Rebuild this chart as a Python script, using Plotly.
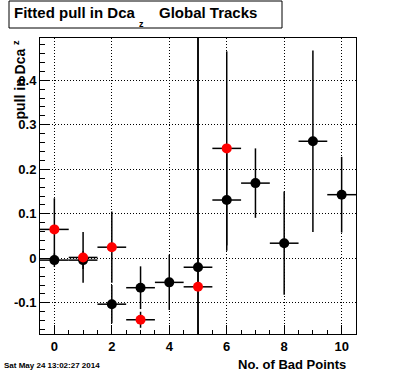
import plotly.graph_objects as go

# ---- data ----
x_black = [0, 1, 2, 3, 4, 5, 6, 7, 8, 9, 10]
y_black = [-0.004, -0.004, -0.103, -0.066, -0.054, -0.020, 0.131, 0.169, 0.034, 0.263, 0.143]
err_black = [0.015, 0.02, 0.043, 0.048, 0.062, 0.55, 0.114, 0.078, 0.116, 0.204, 0.085]

x_red = [0, 1, 2, 3, 5, 6]
y_red = [0.065, 0.002, 0.025, -0.138, -0.064, 0.247]
err_red = [0.07, 0.057, 0.08, 0.018, 0.6, 0.218]

x_bin_half = 0.5

x_tickvals = [0, 2, 4, 6, 8, 10]
x_ticktext = ["0", "2", "4", "6", "8", "10"]
y_tickvals = [-0.1, 0, 0.1, 0.2, 0.3, 0.4]
y_ticktext = ["-0.1", "0", "0.1", "0.2", "0.3", "0.4"]

title_main = "Fitted pull in Dca"
title_sub = "z"
title_rest = "Global Tracks"
ytitle_main = "pull in Dca"
ytitle_sub = "z"
xtitle_text = "No. of Bad Points"
date_text = "Sat May 24 13:02:27 2014"

FONT = "Liberation Sans, Arial, Helvetica, sans-serif"

W, H = 396, 372
L, R, T, B = 40, 40, 38, 38
PW, PH = W - L - R, H - T - B


def px(xp):
    return (xp - L) / PW


def py(yp):
    return (H - B - yp) / PH


def ann(text, x, y, xa, ya, size, angle=0):
    return dict(text=text, xref="paper", yref="paper", x=px(x), y=py(y),
                xanchor=xa, yanchor=ya, showarrow=False, textangle=angle,
                borderpad=0,
                font=dict(family=FONT, size=size, color="black", weight="bold"))


fig = go.Figure()

for xs, ys, es, col in [(x_black, y_black, err_black, "black"),
                        (x_red, y_red, err_red, "#ff0000")]:
    fig.add_trace(go.Scatter(
        x=xs, y=ys, mode="markers",
        marker=dict(color=col, size=10, line=dict(width=0)),
        error_y=dict(type="data", array=es, visible=True, color="black",
                     thickness=1.5, width=0),
        error_x=dict(type="constant", value=x_bin_half, visible=True,
                     color="black", thickness=1.5, width=0),
        showlegend=False, cliponaxis=True,
    ))

axis_common = dict(
    showline=True, mirror=True, linecolor="black", linewidth=1,
    showgrid=True, gridcolor="black", griddash="1px,2px", gridwidth=1,
    zeroline=False, ticks="inside", tickcolor="black", tickwidth=1,
    automargin=False,
    tickfont=dict(family=FONT, size=13, color="black", weight="bold"),
)

fig.update_xaxes(range=[-0.5, 10.5], tickvals=x_tickvals, ticktext=x_ticktext,
                 ticklen=9,
                 minor=dict(dtick=0.5, tick0=0, ticklen=4, ticks="inside",
                            tickcolor="black", showgrid=False),
                 **axis_common)
fig.update_yaxes(range=[-0.17, 0.495], tickvals=y_tickvals, ticktext=y_ticktext,
                 ticklen=10,
                 minor=dict(dtick=0.02, tick0=0, ticklen=5, ticks="inside",
                            tickcolor="black", showgrid=False),
                 **axis_common)

fig.update_layout(
    width=W, height=H,
    margin=dict(l=L, r=R, t=T, b=B, pad=0, autoexpand=False),
    paper_bgcolor="white", plot_bgcolor="white",
    shapes=[dict(type="rect", xref="paper", yref="paper",
                 x0=px(9), x1=px(282), y0=py(28), y1=py(1),
                 line=dict(color="black", width=1), fillcolor="white")],
    annotations=[
        ann(title_main, 13, 12.5, "left", "middle", 15),
        ann(title_sub, 137.5, 24, "left", "middle", 9),
        ann(title_rest, 158, 12.5, "left", "middle", 15),
        ann(ytitle_main, 20, 121, "center", "bottom", 14, -90),
        ann(ytitle_sub, 15.5, 42.5, "center", "middle", 9, -90),
        ann(xtitle_text, 347, 364, "right", "middle", 13),
        ann(date_text, 3, 365.5, "left", "middle", 8),
    ],
)

fig.write_html("out.html",
               config={"displayModeBar": False, "staticPlot": True},
               post_script="document.body.style.margin='0';"
                           "document.body.style.overflow='hidden';")
